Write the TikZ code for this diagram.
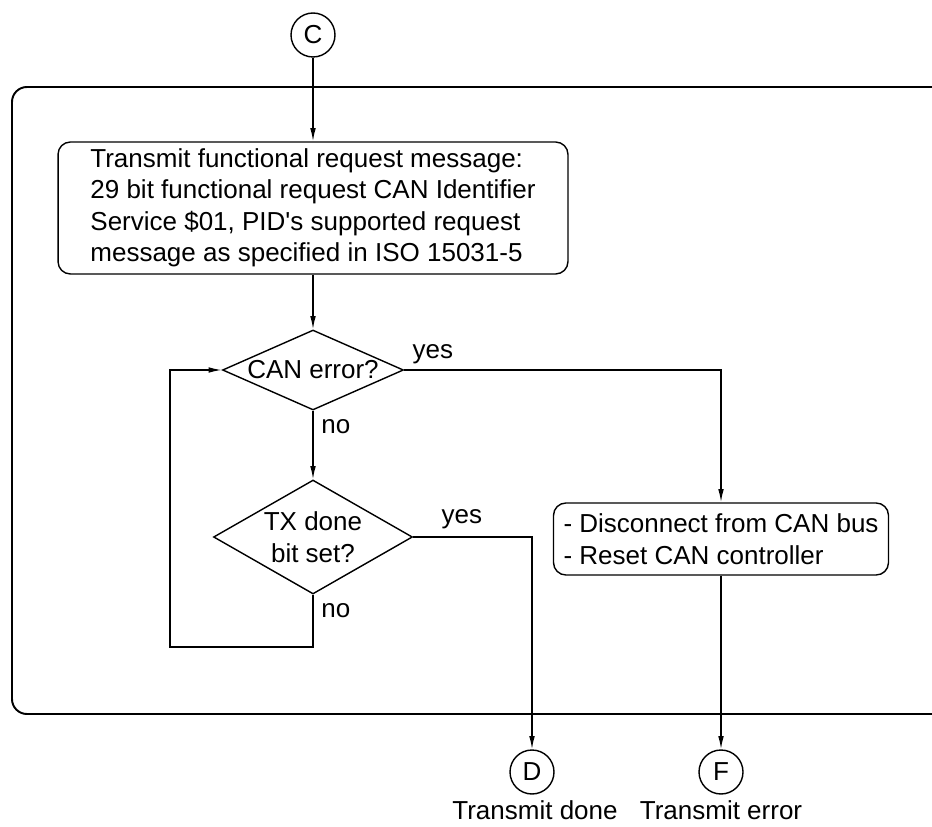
\documentclass[tikz,border=0pt]{standalone}
\usepackage{fontspec}
\setmainfont{Liberation Sans}
\usetikzlibrary{positioning}
\usetikzlibrary{arrows.meta, shapes.geometric}

\begin{document}
\begin{tikzpicture}[x=0.02cm, y=-0.02cm,
	font=\fontsize{14.8pt}{17.9pt}\selectfont]

\tikzset{flow box/.style={
		draw,
		line width=0.8pt,
		rounded corners=#1,
		align=left,
		inner sep=0pt
	},
	flow box/.default=7pt,
	decision/.style={
		draw,
		diamond,
		aspect=#1,
		line width=0.8pt,
		align=center,
		inner sep=0pt
	},
	decision/.default=2,
	connector/.style={
		draw,
		circle,
		line width=0.8pt,
		minimum size=0.88cm,
		inner sep=0pt
	},
	flow line/.style={
		line width=0.8pt,
		-{Latex[length=7.5pt,width=3.2pt]}
	},
	branch label/.style={inner sep=0pt}
}
\useasboundingbox (0,0) rectangle (932,827);

% outer frame, open on the right side
\draw[line width=1.1pt, rounded corners=8.5pt] (932,87) -- (12,87) -- (12,714) -- (932,714);

\node[connector] (c) at (313,35) {C};
\node[flow box, minimum width=10.2cm, minimum height=2.64cm] (request) at (313,208)
	{Transmit functional request message:\\
	 29 bit functional request CAN Identifier\\
	 Service \$01, PID\textquotesingle s supported request\\
	 message as specified in ISO 15031-5};
\node[decision=2.26, minimum width=3.62cm, minimum height=1.6cm] (canerr) at (313,370) {CAN error?};
\node[decision=1.75, minimum width=3.98cm, minimum height=2.28cm] (txdone) at (313,537) {TX done\\bit set?};
\node[flow box, minimum width=6.7cm, minimum height=1.44cm] (disconnect) at (721,539)
	{- Disconnect from CAN bus\\
	 - Reset CAN controller};
\node[connector] (d) at (532,772) {D};
\node[connector] (f) at (721,772) {F};
\node[branch label, below=0.12cm of d, xshift=0.06cm] (donetext) {Transmit done};
\node[branch label, below=0.12cm of f] (errortext) {Transmit error};

\coordinate (loop) at (170,647);

\draw[flow line] (c) -- (request);
\draw[flow line] (request) -- (canerr);
\draw[flow line] (canerr) -- (txdone);
\draw[flow line] (canerr.east) -| (disconnect.north);
\draw[flow line] (txdone.east) -| (d.north);
\draw[flow line] (disconnect) -- (f);
\draw[flow line] (txdone.south) |- (loop) |- (canerr.west);

\node[branch label, anchor=south west] at ([shift={(8,-6)}]canerr.east) {yes};
\node[branch label, anchor=north west] at ([shift={(8,8)}]canerr.south) {no};
\node[branch label, anchor=south west] at ([shift={(28,-8)}]txdone.east) {yes};
\node[branch label, anchor=north west] at ([shift={(8,8)}]txdone.south) {no};
\end{tikzpicture}
\end{document}
